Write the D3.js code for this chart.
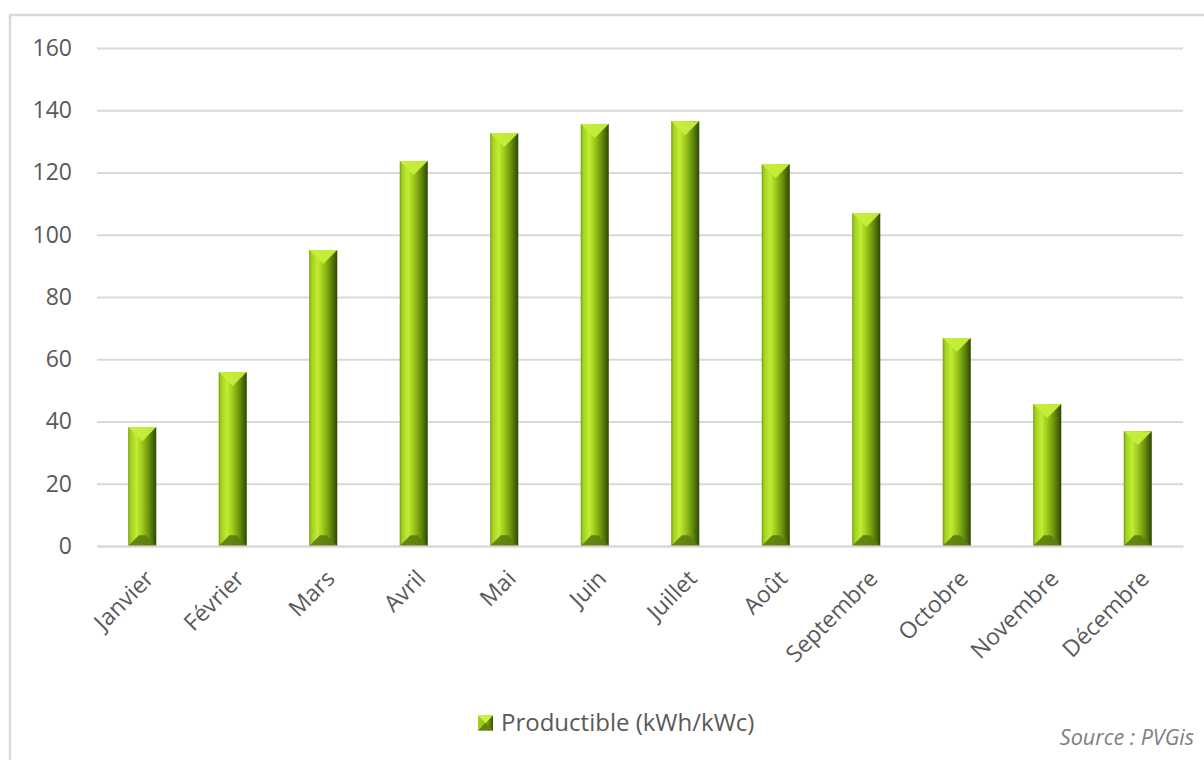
<!DOCTYPE html>
<html lang="fr">
<head>
<meta charset="UTF-8">
<title>Productible mensuel</title>
<script src="https://d3js.org/d3.v7.min.js"></script>
<style>
  body { margin: 0; background: #fff; font-family: "Open Sans", Arial, sans-serif; }
  svg { display: block; }
  .tick text { fill: #595959; font-size: 23px; font-family: "Open Sans", Arial, sans-serif; }
</style>
</head>
<body>
<svg width="1204" height="760"></svg>
<script>
const months = ["Janvier", "Février", "Mars", "Avril", "Mai", "Juin", "Juillet", "Août", "Septembre", "Octobre", "Novembre", "Décembre"];
const productible = [38.2, 55.9, 95.1, 123.7, 132.7, 135.6, 136.5, 122.7, 107, 66.8, 45.6, 36.9];
const yTicks = [0, 20, 40, 60, 80, 100, 120, 140, 160];

const svg = d3.select("svg");

// cadre du graphique
svg.append("rect")
  .attr("x", 10).attr("y", 15)
  .attr("width", 1210).attr("height", 760)
  .attr("fill", "none").attr("stroke", "#d9d9d9").attr("stroke-width", 2.5);

const plotLeft = 97, plotRight = 1183, plotTop = 48, plotBottom = 546;

const x = d3.scaleBand().domain(months).range([plotLeft, plotRight]).paddingInner(0.69).paddingOuter(0.345);
const y = d3.scaleLinear().domain([0, 160]).range([plotBottom, plotTop]);

// dégradés des barres
const defs = svg.append("defs");
const grad = defs.append("linearGradient").attr("id", "barGrad").attr("x1", 0).attr("x2", 1).attr("y1", 0).attr("y2", 0);
[[0, "#6f9a10"], [0.08, "#a2d01c"], [0.3, "#c2ec36"], [0.5, "#9cca1a"], [0.72, "#6e960f"], [0.88, "#4a6a08"], [1, "#2f4604"]]
  .forEach(([o, c]) => grad.append("stop").attr("offset", o).attr("stop-color", c));

// grille + axe Y
const yAxis = svg.append("g")
  .attr("transform", `translate(${plotLeft},0)`)
  .call(d3.axisLeft(y).tickValues(yTicks).tickSize(-(plotRight - plotLeft)).tickPadding(25));
yAxis.select(".domain").remove();
yAxis.selectAll(".tick line").attr("stroke", "#d9d9d9").attr("stroke-width", 2);

// barres
const bw = x.bandwidth();
const bars = svg.append("g").selectAll("g").data(productible).join("g")
  .attr("transform", (d, i) => `translate(${x(months[i])},0)`);

bars.append("rect")
  .attr("x", 0).attr("y", d => y(d))
  .attr("width", bw).attr("height", d => y(0) - y(d))
  .attr("fill", "url(#barGrad)");

// biseau haut
bars.append("path")
  .attr("d", d => `M0,${y(d)} L${bw},${y(d)} L${bw / 2},${y(d) + bw * 0.5} Z`)
  .attr("fill", "#c6ee3a").attr("opacity", 0.95);
// biseau bas
bars.append("path")
  .attr("d", d => `M0,${y(0)} L${bw},${y(0)} L${bw * 0.62},${y(0) - bw * 0.38} L${bw * 0.38},${y(0) - bw * 0.38} Z`)
  .attr("fill", "#5a7c0e").attr("opacity", 0.9);

// axe X
const xAxis = svg.append("g")
  .attr("transform", `translate(0,${plotBottom})`)
  .call(d3.axisBottom(x).tickSize(0));
xAxis.select(".domain").attr("stroke", "#d9d9d9").attr("stroke-width", 2);
xAxis.selectAll(".tick text")
  .attr("text-anchor", "end")
  .attr("y", 0).attr("dy", 0)
  .attr("transform", "translate(13,34) rotate(-45)");

// légende
const legend = svg.append("g").attr("transform", "translate(478,723)");
const lgrad = defs.append("linearGradient").attr("id", "legGrad").attr("x1", 0).attr("x2", 1);
[[0, "#a6d41e"], [0.5, "#8cbc16"], [1, "#3a5406"]].forEach(([o, c]) => lgrad.append("stop").attr("offset", o).attr("stop-color", c));
legend.append("rect").attr("x", 0).attr("y", -7.5).attr("width", 15).attr("height", 15).attr("fill", "url(#legGrad)");
legend.append("path").attr("d", "M0,-7.5 L15,-7.5 L7.5,0 Z").attr("fill", "#cdf040");
legend.append("path").attr("d", "M0,7.5 L15,7.5 L7.5,0 Z").attr("fill", "#5f8210");
legend.append("text").attr("x", 23).attr("y", 0).attr("dy", "0.35em")
  .attr("fill", "#595959").attr("font-size", 24).text("Productible (kWh/kWc)");

// source
svg.append("text").attr("x", 1194).attr("y", 745)
  .attr("text-anchor", "end").attr("font-style", "italic")
  .attr("fill", "#7f7f7f").attr("font-size", 21.5).text("Source : PVGis");
</script>
</body>
</html>
